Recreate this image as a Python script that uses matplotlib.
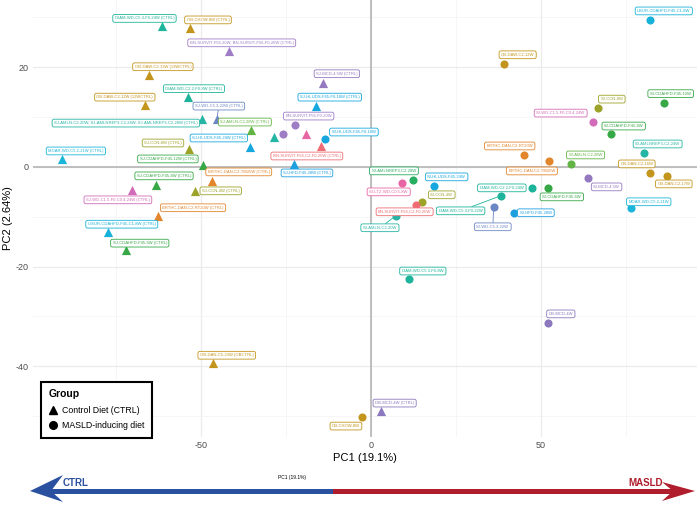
import matplotlib.pyplot as plt
from matplotlib.lines import Line2D
from matplotlib.patches import Polygon, Rectangle

plt.rcParams['font.family'] = ['Liberation Sans', 'DejaVu Sans']
plt.rcParams['axes.unicode_minus'] = False

# sample labels, study, diet group and PCA scores
names = [
    "DIAM-WD-C5.3-F0-24W (CTRL)", "OB-CHOW-8W (CTRL)",
    "BN-SURVIT-F56-20W; BN-SURVIT-F56-F0-20W (CTRL)", "OB-DAW-C2-13W (13WCTRL)",
    "DIAM-WD-C2.2-F0-8W (CTRL)", "OB-DAW-C2-12W (12WCTRL)", "SJ-WD-C5.3-22W (CTRL)",
    "SJ-AMLN-C2-20W; SJ-AMLNREP3-C2-24W; SJ-AMLNREP3-C2-28W (CTRL)",
    "SJ-AMLN-C2-28W (CTRL)", "SJ-CCN-8W (CTRL)", "SJ-HLUDS-F45-24W (CTRL)",
    "SJ-CDAHFD-F45-12W (CTRL)", "MOAR-WD-C5.2-21W (CTRL)", "BRTHC-DAN-C2-TM20W (CTRL)",
    "SJ-CDAHFD-F45-8W (CTRL)", "SJ-CCN-4W (CTRL)", "SJ-WD-C1.5-F0-C0.4-24W (CTRL)",
    "BRTHC-DAN-C2-RT20W (CTRL)", "USUR-CDAHFD-F45-C1-8W (CTRL)", "SJ-CDAHFD-F45-6W (CTRL)",
    "OB-DAN-C5-23W (OBCTRL)", "DB-MCD-4W (CTRL)", "SJ-MCD-4.5W (CTRL)",
    "SJ-HLUDS-F45-F0-18W (CTRL)", "", "", "BN-SURVIT-F56-C2-F0-20W (CTRL)",
    "SJ-HFD-F45-28W (CTRL)",
    "USUR-CDAHFD-F45-C1-8W", "OB-DAW-C2-12W", "SJ-CCN-8W", "SJ-CDAHFD-F45-12W",
    "SJ-WD-C1.5-F0-C0.4-24W", "SJ-CDAHFD-F45-8W", "SJ-AMLNREP3-C2-24W", "SJ-AMLN-C2-28W",
    "OB-DAN-C2-16W", "OB-DAN-C2-17W", "SJ-MCD-4.5W", "MOAR-WD-C5.2-21W",
    "BRTHC-DAN-C2-RT20W", "BRTHC-DAN-C2-TM20W", "DIAM-WD-C2.2-F0-24W", "SJ-CDAHFD-F45-6W",
    "DIAM-WD-C5.3-F0-22W", "SJ-WD-C5.3-22W", "SJ-HFD-F45-28W", "SJ-AMLNREP3-C2-28W",
    "SJ-LTZ-WD-C0.5-8W", "SJ-HLUDS-F45-24W", "SJ-CCN-4W", "BN-SURVIT-F56-C2-F0-20W",
    "SJ-AMLN-C2-20W", "DIAM-WD-C5.3-F0-8W", "DB-MCD-4W", "OB-CHOW-8W",
    "BN-SURVIT-F56-F0-20W", "", "SJ-HLUDS-F45-F0-18W",
]
study = [
    "DIAM", "OB", "BN", "OB", "DIAM", "OB", "SJWD53", "AMLN", "AMLN28", "CCN", "HLUDS",
    "CDAHFD", "MOAR", "BRTHC", "CDAHFD", "CCN", "SJWD15", "BRTHC", "USUR", "CDAHFD",
    "OB", "DB", "MCD", "HLUDS", "AMLN", "LTZ", "BNC2", "HFD",
    "USUR", "OB", "CCN", "CDAHFD", "SJWD15", "CDAHFD", "AMLN", "AMLN28", "OB", "OB",
    "MCD", "MOAR", "BRTHC", "BRTHC", "DIAM", "CDAHFD", "DIAM", "SJWD53", "HFD", "AMLNR",
    "LTZ", "HLUDS", "CCN", "BNC2", "AMLN", "DIAM", "DB", "OB", "BN", "BN", "HLUDS",
]
group = ["CTRL"] * 28 + ["MASLD"] * 31
pc1 = [
    -61.3, -53.2, -41.8, -65.3, -53.8, -66.5, -45.3, -49.7, -35.3, -53.5, -35.6, -49.4,
    -90.9, -46.8, -63.2, -51.8, -70.3, -62.6, -77.4, -72.1, -46.5, 2.9, -14.1, -16.2,
    -28.5, -19.1, -14.7, -22.6,
    82.1, 39.1, 66.8, 86.2, 65.3, 70.6, 80.3, 58.8, 82.1, 87.1, 63.8, 76.5, 45.0, 52.4,
    47.4, 52.1, 38.2, 36.2, 42.1, 12.4, 9.1, 18.5, 15.0, 13.2, 7.4, 11.2, 52.1, -2.6,
    -22.4, -25.9, -13.5,
]
pc2 = [
    28.2, 27.9, 23.3, 18.5, 14.1, 12.4, 9.6, 9.6, 7.4, 3.6, 4.0, 0.4, 1.6, -2.8, -3.6,
    -4.8, -4.6, -9.8, -13.1, -16.7, -39.4, -49.0, 16.9, 12.2, 6.0, 6.6, 4.2, 0.6,
    29.5, 20.7, 11.8, 12.9, 9.0, 6.6, 2.8, 0.6, -1.2, -1.8, -2.2, -8.2, 2.4, 1.2, -4.2,
    -4.2, -5.8, -8.0, -9.2, -2.6, -3.2, -3.8, -7.0, -7.6, -9.8, -22.5, -31.3, -50.2,
    8.4, 6.6, 5.6,
]

# repel-style label offsets in pixels (dx right, dy up); None = no label
label_off = [
    (-18, 8), (18, 8), (13, 8), (14, 8), (6, 8), (-20, 8), (2, 13), (-76, -4), (-6, 8),
    (-26, 6), (-31, 9), (-35, 6), (14, 8), (27, 9), (8, 9), (26, 0), (-14, -10), (35, 8),
    (14, 8), (14, 7), (14, 8), (14, 8), (14, 9), (14, 9), None, None, (-14, -10), (13, -9),
    (14, 9), (14, 9), (14, 9), (7, 9), (-32, 9), (13, 8), (14, 9), (15, 9), (-13, 9),
    (7, -8), (19, -9), (18, 6), (-14, 9), (-17, -10), (-30, 0), (14, -9), (-40, -15),
    (-1, -20), (22, 0), (-19, 9), (-13, -9), (13, 9), (20, 7), (-11, -7), (-16, -12),
    (14, 8), (13, 9), (-16, -9), (14, 9), None, (29, 7),
]
with_segment = {6, 44, 45, 52}

colors = {
    "DIAM": "#1DB49B", "OB": "#C4951C", "BN": "#9E7CC6", "SJWD53": "#6C86C4",
    "AMLN": "#25B5A5", "AMLN28": "#62B444", "AMLNR": "#27AE60", "CCN": "#9DA328",
    "HLUDS": "#16A7DE", "CDAHFD": "#36A846", "MOAR": "#1BB5DA", "BRTHC": "#E2852B",
    "SJWD15": "#D26BB8", "USUR": "#17B2D9", "DB": "#8B78BE", "MCD": "#9579C0",
    "BNC2": "#EE6C74", "HFD": "#1E9FDF", "LTZ": "#E866A3",
}

fig = plt.figure(figsize=(6.97, 5.21), dpi=100)
ax = fig.add_axes([33 / 697, 84 / 521, 664 / 697, 437 / 521])

ax.set_xlim(-99.4, 96.0)
ax.set_ylim(-54.2, 33.5)
ax.set_xticks([-50, 0, 50])
ax.set_xticks([-75, -25, 25, 75], minor=True)
ax.set_yticks([-40, -20, 0, 20])
ax.set_yticks([-50, -30, -10, 10, 30], minor=True)
ax.grid(True, which='major', color='#EBEBEB', lw=0.9, zorder=0)
ax.grid(True, which='minor', color='#F3F3F3', lw=0.5, zorder=0)
ax.set_axisbelow(True)
for s in ax.spines.values():
    s.set_visible(False)
ax.tick_params(which='both', length=0, labelsize=6.5, labelcolor='#4D4D4D', pad=3)
ax.axhline(0, color='#B5B5B5', lw=1.2, zorder=1)
ax.axvline(0, color='#B5B5B5', lw=1.2, zorder=1)
ax.set_xlabel("PC1 (19.1%)", fontsize=8, labelpad=2)
ax.set_ylabel("PC2 (2.64%)", fontsize=8, labelpad=2)

for i in range(len(names)):
    c = colors[study[i]]
    mk = '^' if group[i] == "CTRL" else 'o'
    ax.scatter(pc1[i], pc2[i], marker=mk, s=44 if mk == '^' else 34, color=c,
               linewidths=0, zorder=3)
    if label_off[i] is None:
        continue
    dx, dy = label_off[i]
    arrow = None
    if i in with_segment:
        arrow = dict(arrowstyle='-', color=c, lw=0.6, shrinkA=0, shrinkB=2)
    ax.annotate(names[i], xy=(pc1[i], pc2[i]), xytext=(dx * 0.72, dy * 0.72),
                textcoords='offset points', ha='center', va='center', fontsize=3,
                color=c, zorder=4, arrowprops=arrow,
                bbox=dict(boxstyle='round,pad=0.45', fc='white', ec=c, lw=0.6))

handles = [
    Line2D([], [], marker='^', color='black', ls='none', markersize=6),
    Line2D([], [], marker='o', color='black', ls='none', markersize=5.5),
]
leg = ax.legend(handles, ["Control Diet (CTRL)", "MASLD-inducing diet"], title="Group",
                loc='upper left', bbox_to_anchor=(37 / 697, 1 - 378 / 521),
                bbox_transform=fig.transFigure, fontsize=6.3, title_fontsize=7.5,
                alignment='left', fancybox=False, framealpha=1, edgecolor='black',
                borderpad=0.8, labelspacing=0.75, handletextpad=0.5, handlelength=1.1)
leg.get_title().set_fontweight('bold')
leg.get_frame().set_linewidth(1.5)

# direction arrow under the plot, drawn in pixel space
ov = fig.add_axes([0, 0, 1, 1])
ov.set_xlim(0, 697)
ov.set_ylim(521, 0)
ov.axis('off')
ov.patch.set_alpha(0)
blue = '#2A50A0'
red = '#B01E2D'
ov.add_patch(Rectangle((50, 488.5), 285, 5, color=blue, lw=0))
ov.add_patch(Polygon([(30, 491), (63, 475), (51, 491), (63, 502)], closed=True,
                     color=blue, lw=0))
ov.add_patch(Rectangle((333, 488.5), 342, 5, color=red, lw=0))
ov.add_patch(Polygon([(695, 491), (662, 482), (673, 491), (662, 501)], closed=True,
                     color=red, lw=0))
ov.text(63, 488, "CTRL", color=blue, fontsize=7, fontweight='bold', ha='left', va='bottom')
ov.text(628, 488, "MASLD", color=red, fontsize=7, fontweight='bold', ha='left', va='bottom')
ov.text(292, 477, "PC1 (19.1%)", fontsize=3.5, ha='center', va='center')

fig.savefig("out.png", dpi=100)
